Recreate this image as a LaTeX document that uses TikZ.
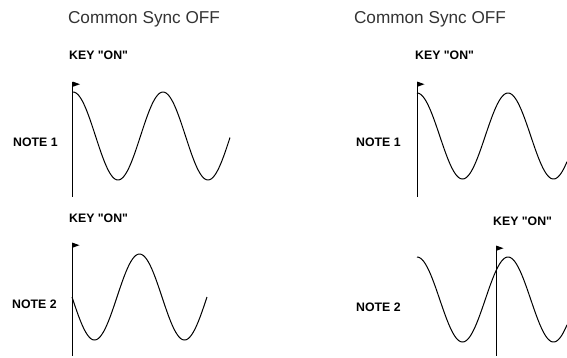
\documentclass[tikz,border=0pt]{standalone}
\usepackage{fontspec}
\setmainfont{Liberation Sans}[Ligatures=TeXOff]
\begin{document}
\begin{tikzpicture}[x=1pt,y=-1pt,
  title/.style={anchor=base,inner sep=0pt,font=\fontsize{17.2}{18}\selectfont,text=black!80},
  lbl/.style={anchor=base west,inner sep=0pt,font=\fontsize{12.3}{13}\selectfont\bfseries},
  wave/.style={line width=1pt,line join=round},
  pole/.style={line width=1pt},
  flag/.style={fill=black}]
\useasboundingbox (0,0) rectangle (567,357);
% titles
\node[title] (t1) at (144,23.3) {Common Sync OFF};
\node[title] (t2) at (430,23.3) {Common Sync OFF};
% labels
\node[lbl] (k1) at (69,59.5) {KEY "ON"};
\node[lbl] (k2) at (415,59.5) {KEY "ON"};
\node[lbl] (k3) at (69,222.3) {KEY "ON"};
\node[lbl] (k4) at (493,225.3) {KEY "ON"};
\node[lbl] (n1) at (13,146.6) {NOTE 1};
\node[lbl] (n2) at (356,146.6) {NOTE 1};
\node[lbl] (n3) at (12,308.6) {NOTE 2};
\node[lbl] (n4) at (356,311) {NOTE 2};
% poles
\draw[pole] (72.5,82) -- (72.5,197);
\draw[pole] (417,82) -- (417,197);
\draw[pole] (72,243) -- (72,356);
\draw[pole] (496,246) -- (496,356);
% flags
\fill[flag] (72.5,81.5) -- (80,84.2) -- (72.5,86.9) -- cycle;
\fill[flag] (417,81.5) -- (424.5,84.2) -- (417,86.9) -- cycle;
\fill[flag] (72,242.5) -- (79.5,245.2) -- (72,247.9) -- cycle;
\fill[flag] (496,245.5) -- (503.5,248.2) -- (496,250.9) -- cycle;
% waves
\draw[wave] plot[domain=73:230,samples=120,smooth] (\x,{136-44*cos(4*(\x-73))});
\draw[wave] plot[domain=417:567,samples=120,smooth] (\x,{136-43*cos(3.956*(\x-417))});
\draw[wave] plot[domain=72:207,samples=120,smooth] (\x,{297+43*sin(4*(\x-72))});
\draw[wave] plot[domain=417:567,samples=120,smooth] (\x,{299.5-42.5*cos(3.956*(\x-417))});
\end{tikzpicture}
\end{document}
